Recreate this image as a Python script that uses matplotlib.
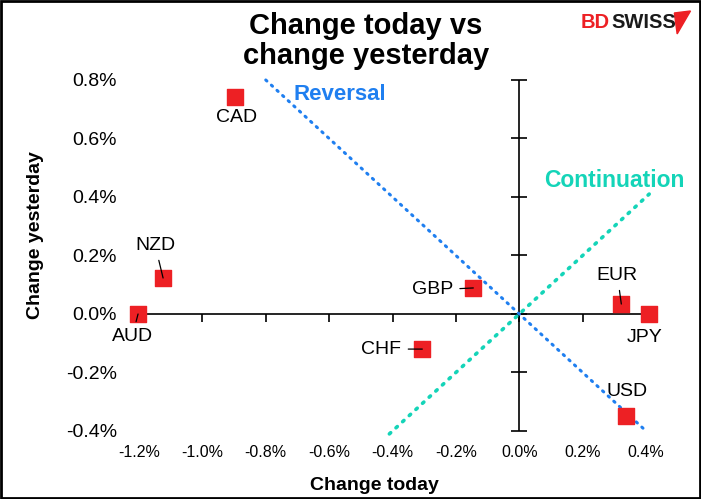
import numpy as np
import matplotlib
matplotlib.use("Agg")
import matplotlib.pyplot as plt
from matplotlib.patches import Polygon, Rectangle

plt.rcParams['font.family'] = ['Liberation Sans', 'DejaVu Sans']

# data (percent)
currencies = ["CAD", "NZD", "AUD", "GBP", "CHF", "EUR", "JPY", "USD"]
change_today = [-0.897, -1.124, -1.203, -0.145, -0.306, 0.322, 0.41, 0.338]
change_yesterday = [0.742, 0.123, 0.0, 0.089, -0.12, 0.034, 0.0, -0.349]
# label offsets in pixels (dx, dy) and whether a leader line is drawn
label_offsets = [(2, -21), (-8, 33), (-6, -23), (-41, -2), (-41, 0), (-4, 29), (-5, -24), (1, 25)]
leaders = [False, True, True, True, True, True, False, False]

x_ticks = [-1.2, -1.0, -0.8, -0.6, -0.4, -0.2, 0.0, 0.2, 0.4]
y_ticks = [-0.4, -0.2, 0.0, 0.2, 0.4, 0.6, 0.8]

red = "#ED2024"
blue = "#1F7FF0"
teal = "#14D4B8"

fig = plt.figure(figsize=(7.01, 4.99), dpi=100)
ax = fig.add_axes([0.1983, 0.1363, 0.7233, 0.7034])
ax.set_xlim(-1.2, 0.4)
ax.set_ylim(-0.4, 0.8)
for s in ax.spines.values():
    s.set_visible(False)

# axis lines through zero with cross ticks
ax.axhline(0, color="black", lw=1.2, zorder=2)
ax.axvline(0, color="black", lw=1.2, zorder=2)
ax.plot(x_ticks, [0] * len(x_ticks), ls="none", marker=3, ms=6, mew=1.2, color="black", clip_on=False)
ax.plot([0] * len(y_ticks), y_ticks, ls="none", marker="_", ms=12, mew=1.2, color="black", clip_on=False)

ax.set_xticks(x_ticks)
ax.set_yticks(y_ticks)
ax.set_xticklabels(["%.1f%%" % v for v in x_ticks], fontsize=11.5)
ax.set_yticklabels(["%.1f%%" % v for v in y_ticks], fontsize=14)
ax.tick_params(length=0, pad=10)
ax.tick_params(axis="y", pad=16)

# reversal and continuation lines
rev_x = np.array([-0.8, 0.4])
ax.plot(rev_x, -rev_x, color=blue, lw=2.2, ls=(0, (0.5, 2.0)), dash_capstyle="round", clip_on=False, zorder=3)
cont_x = np.array([-0.41, 0.41])
ax.plot(cont_x, cont_x, color=teal, lw=2.6, ls=(0, (0.5, 2.0)), dash_capstyle="round", clip_on=False, zorder=3)
ax.text(-0.565, 0.749, "Reversal", color=blue, fontsize=16, fontweight="bold", ha="center", va="center")
ax.text(0.30, 0.455, "Continuation", color=teal, fontsize=16.5, fontweight="bold", ha="center", va="center")

ax.scatter(change_today, change_yesterday, marker="s", s=130, color=red, zorder=4, clip_on=False)

for name, x, y, off, lead in zip(currencies, change_today, change_yesterday, label_offsets, leaders):
    ap = None
    if lead:
        ap = dict(arrowstyle="-", color="black", lw=0.9, shrinkA=3, shrinkB=0)
    ax.annotate(name, (x, y), xytext=off, textcoords="offset pixels", fontsize=14,
                ha="center", va="center", arrowprops=ap, zorder=5, annotation_clip=False)

ax.set_xlabel("Change today", fontsize=14, fontweight="bold")
ax.set_ylabel("Change yesterday", fontsize=14, fontweight="bold")
ax.xaxis.set_label_coords(0.465, -0.13)
ax.yaxis.set_label_coords(-0.187, 0.558)

fig.text(0.522, 0.918, "Change today vs\nchange yesterday", fontsize=21, fontweight="bold",
         ha="center", va="center", linespacing=1.12)

# logo
fig.text(0.828, 0.955, "BD", color=red, fontsize=14.5, fontweight="bold", ha="left", va="center")
fig.text(0.872, 0.955, "SWISS", color="#1a1a1a", fontsize=14.5, fontweight="bold", ha="left", va="center")
fig.patches.append(Polygon([[0.962, 0.974], [0.985, 0.978], [0.966, 0.932]], closed=True,
                           color=red, transform=fig.transFigure))

# outer frame
fig.patches.append(Rectangle((0.002, 0.003), 0.996, 0.994, fill=False, ec="black", lw=2,
                             transform=fig.transFigure))

fig.savefig("out.png", dpi=100)
